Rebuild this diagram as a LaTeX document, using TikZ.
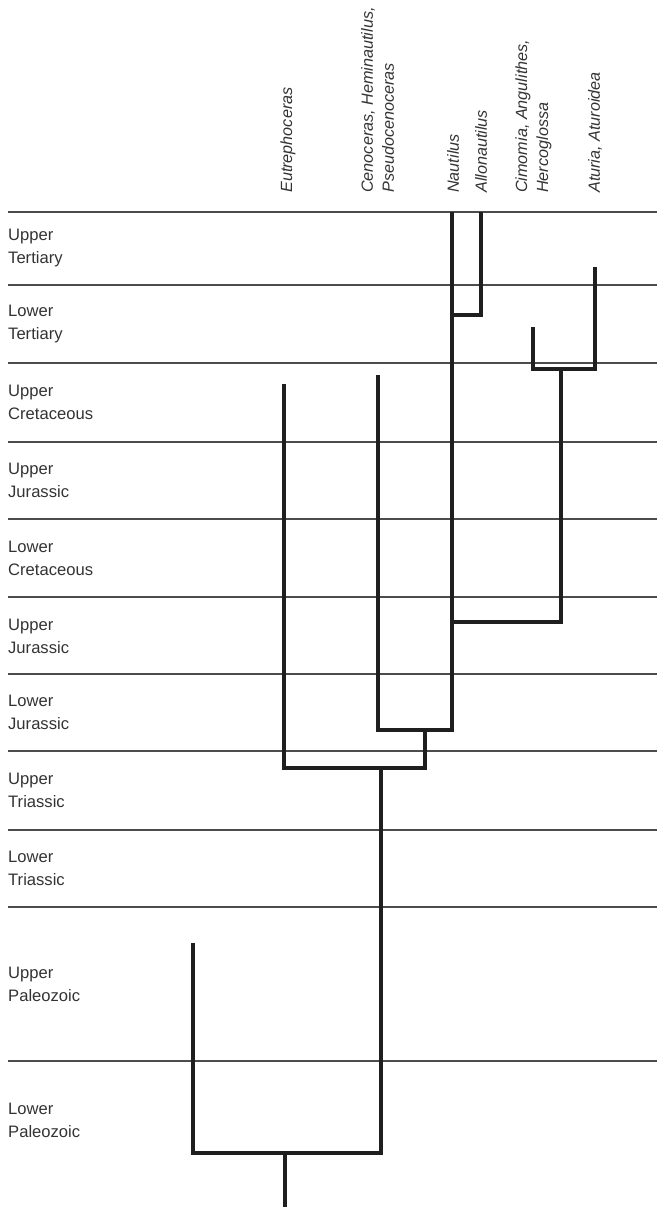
\documentclass[tikz,border=0pt]{standalone}
\usepackage{fontspec}
\setmainfont{Liberation Sans}
\begin{document}
\begin{tikzpicture}[x=1pt,y=-1pt,
  era/.style={draw=black!70, line width=1.1pt},
  branch/.style={draw=black!88, line width=4.4pt, line join=miter},
  period/.style={anchor=west, align=left, inner sep=0pt, font=\fontsize{16.6}{23}\selectfont, text=black!80},
  taxon/.style={anchor=west, rotate=90, align=left, inner sep=0pt, font=\fontsize{16.2}{21}\selectfont\itshape, text=black!80}]
\useasboundingbox (0,0) rectangle (657,1209);

% period boundaries
\foreach \yy in {212,285,363,442,519,597,674,751,830,907,1061}
  \draw[era] (8,\yy) -- (657,\yy);

% period labels
\node[period] (p1)  at (8,248)  {Upper\\Tertiary};
\node[period] (p2)  at (8,324)  {Lower\\Tertiary};
\node[period] (p3)  at (8,402)  {Upper\\Cretaceous};
\node[period] (p4)  at (8,480)  {Upper\\Jurassic};
\node[period] (p5)  at (8,558)  {Lower\\Cretaceous};
\node[period] (p6)  at (8,636)  {Upper\\Jurassic};
\node[period] (p7)  at (8,712)  {Lower\\Jurassic};
\node[period] (p8)  at (8,790)  {Upper\\Triassic};
\node[period] (p9)  at (8,868)  {Lower\\Triassic};
\node[period] (p10) at (8,984)  {Upper\\Paleozoic};
\node[period] (p11) at (8,1120) {Lower\\Paleozoic};

% taxon labels
\node[taxon] (t1) at (288,193)   {Eutrephoceras};
\node[taxon] (t2) at (377.5,193) {Cenoceras, Heminautilus,\\Pseudocenoceras};
\node[taxon] (t3) at (453,193)   {Nautilus};
\node[taxon] (t4) at (481,193)   {Allonautilus};
\node[taxon] (t5) at (533.5,193) {Cimomia, Angulithes,\\Hercoglossa};
\node[taxon] (t6) at (595,193)   {Aturia, Aturoidea};

% tree coordinates
\coordinate (naut) at (452,212);
\coordinate (allo) at (481,212);
\coordinate (na)   at (452,315);
\coordinate (cim)  at (533,327);
\coordinate (atu)  at (595,267);
\coordinate (ca)   at (561,369);
\coordinate (nc)   at (452,622);
\coordinate (ceno) at (378,375);
\coordinate (cn)   at (452,730);
\coordinate (cnm)  at (425,730);
\coordinate (eut)  at (284,384);
\coordinate (j2)   at (381,768);
\coordinate (j3)   at (285,1153);
\coordinate (upal) at (193,943);
\coordinate (root) at (285,1207);

% branches
\draw[branch] (ceno) |- (cn) -- (naut);
\draw[branch] (allo) |- (na);
\draw[branch] (cim) |- (ca) -| (atu);
\draw[branch] (ca) |- (nc);
\draw[branch] (eut) |- (j2) -| (cnm);
\draw[branch] (j2) |- (j3) -| (upal);
\draw[branch] (j3) -- (root);
\end{tikzpicture}
\end{document}
